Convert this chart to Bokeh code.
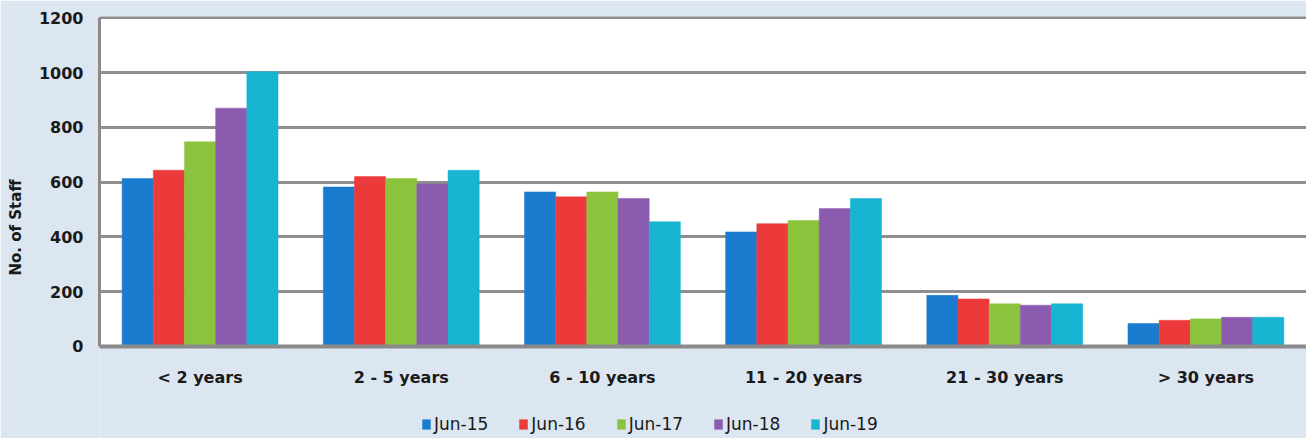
from bokeh.plotting import figure
from bokeh.models import (ColumnDataSource, FactorRange, Range1d, Legend, LegendItem,
                          FixedTicker, CategoricalAxis, BoxAnnotation)
from bokeh.transform import dodge
from bokeh.embed import file_html
from bokeh.resources import INLINE

categories = ["< 2 years", "2 - 5 years", "6 - 10 years", "11 - 20 years", "21 - 30 years", "> 30 years"]
series_names = ["Jun-15", "Jun-16", "Jun-17", "Jun-18", "Jun-19"]
jun15 = [613, 582, 564, 418, 186, 83]
jun16 = [643, 620, 546, 448, 173, 95]
jun17 = [747, 613, 564, 460, 155, 100]
jun18 = [870, 593, 540, 503, 150, 106]
jun19 = [1003, 643, 455, 540, 155, 106]
y_ticks = [0, 200, 400, 600, 800, 1000, 1200]

colors = ["#1b7ccf", "#ec3a3a", "#8bc43c", "#8b5bb0", "#18b4d2"]
BG = "#dbe6f1"
FONT = "DejaVu Sans"

source = ColumnDataSource(dict(cat=categories, s0=jun15, s1=jun16, s2=jun17, s3=jun18, s4=jun19))

p = figure(
    x_range=FactorRange(factors=categories, range_padding=0),
    y_range=Range1d(-337, 1205),
    width=1306, height=438,
    x_axis_location=None,
    output_backend="svg", toolbar_location=None,
    min_border_left=99, min_border_right=0, min_border_top=16, min_border_bottom=0,
    background_fill_color=BG, border_fill_color=BG,
)
p.outline_line_color = None

# white plot area above the zero line
plot_area = BoxAnnotation(bottom=0, fill_color="white", fill_alpha=1.0, line_color=None, level="underlay")

offsets = [-0.31, -0.155, 0.0, 0.155, 0.31]
renderers = []
for i, col in enumerate(["s0", "s1", "s2", "s3", "s4"]):
    r = p.vbar(x=dodge("cat", offsets[i], range=p.x_range), top=col, width=0.155,
               source=source, fill_color=colors[i], line_color=colors[i], line_width=0.5)
    renderers.append(r)

# grid
p.xgrid.grid_line_color = None
p.ygrid.ticker = FixedTicker(ticks=y_ticks)
p.ygrid.grid_line_color = "#8e8e8e"
p.ygrid.grid_line_width = 3
p.ygrid.level = "underlay"
p.center = [plot_area] + list(p.center)

# y axis
p.yaxis.ticker = FixedTicker(ticks=y_ticks)
p.yaxis.bounds = (0, 1200)
p.yaxis.axis_label = "No. of Staff"
p.yaxis.axis_label_text_font = FONT
p.yaxis.axis_label_text_font_style = "bold"
p.yaxis.axis_label_text_font_size = "15px"
p.yaxis.axis_label_text_color = "#1a1a1a"
p.yaxis.axis_label_standoff = 11
p.yaxis.major_label_text_font = FONT
p.yaxis.major_label_text_font_style = "bold"
p.yaxis.major_label_text_font_size = "16px"
p.yaxis.major_label_text_color = "#1a1a1a"
p.yaxis.major_label_standoff = 16
p.yaxis.major_tick_out = 0
p.yaxis.major_tick_in = 0
p.yaxis.minor_tick_out = 0
p.yaxis.minor_tick_in = 0
p.yaxis.axis_line_color = "#8a8a8a"
p.yaxis.axis_line_width = 3

# x axis, pinned to the zero line
xaxis = CategoricalAxis(fixed_location=0)
xaxis.major_label_text_font = FONT
xaxis.major_label_text_font_style = "bold"
xaxis.major_label_text_font_size = "16px"
xaxis.major_label_text_color = "#1a1a1a"
xaxis.major_label_standoff = 22
xaxis.major_tick_out = 0
xaxis.major_tick_in = 0
xaxis.axis_line_color = "#8a8a8a"
xaxis.axis_line_width = 4
p.add_layout(xaxis, "below")

legend = Legend(
    items=[LegendItem(label=series_names[i], renderers=[renderers[i]]) for i in range(5)],
    orientation="horizontal",
    location=(322, 4),
    padding=0, margin=0, spacing=30,
    glyph_width=10, glyph_height=12, label_standoff=3,
    label_text_font=FONT, label_text_font_size="17px", label_text_color="#1a1a1a",
    border_line_color=None, background_fill_alpha=0,
)
p.add_layout(legend, "center")

open("out.html", "w").write(file_html(p, INLINE))
